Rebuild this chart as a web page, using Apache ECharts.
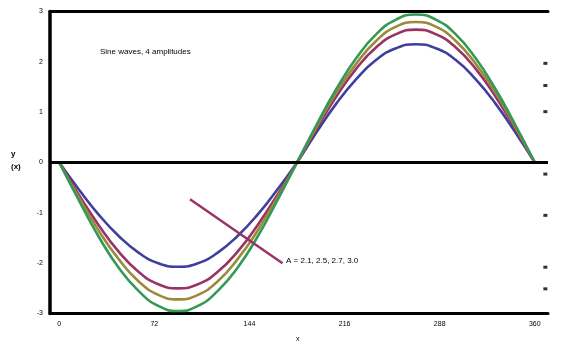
<!DOCTYPE html>
<html lang="en">
<head>
    <meta charset="UTF-8">
    <title>Sine waves</title>
    <script src="https://cdn.jsdelivr.net/npm/echarts@6.0.0/dist/echarts.min.js"></script>
</head>
<body style="margin:0">
    <div id="chart" style="width: 569px; height: 357px;"></div>

    <script>
        // angle in degrees
        var angles = [0, 15, 30, 45, 60, 75, 90, 105, 120, 135, 150, 165, 180,
                      195, 210, 225, 240, 255, 270, 285, 300, 315, 330, 345, 360];
        var xTicks = [0, 72, 144, 216, 288, 360];
        var yTicks = [-3, -2, -1, 0, 1, 2, 3];

        var serieA = [0, -0.54, -1.04, -1.46, -1.79, -2.0, -2.07, -2.0, -1.79, -1.46, -1.04, -0.54, 0,
                      0.61, 1.18, 1.66, 2.04, 2.27, 2.35, 2.27, 2.04, 1.66, 1.18, 0.61, 0];
        var serieB = [0, -0.65, -1.25, -1.77, -2.17, -2.42, -2.50, -2.42, -2.17, -1.77, -1.25, -0.65, 0,
                      0.68, 1.32, 1.87, 2.29, 2.55, 2.64, 2.55, 2.29, 1.87, 1.32, 0.68, 0];
        var serieC = [0, -0.70, -1.36, -1.92, -2.36, -2.63, -2.72, -2.63, -2.36, -1.92, -1.36, -0.70, 0,
                      0.72, 1.40, 1.97, 2.42, 2.70, 2.79, 2.70, 2.42, 1.97, 1.40, 0.72, 0];
        var serieD = [0, -0.76, -1.48, -2.09, -2.55, -2.85, -2.95, -2.85, -2.55, -2.09, -1.48, -0.76, 0,
                      0.76, 1.47, 2.08, 2.55, 2.84, 2.94, 2.84, 2.55, 2.08, 1.47, 0.76, 0];

        // pequenas marcas na borda direita
        var marcasDireita = [1.97, 1.53, 1.01, -0.23, -1.05, -2.08, -2.51];
        var marcasX = 368;

        // linha de chamada (início e fim)
        var setaInicio = [99, -0.73];
        var setaFim = [169, -2.0];

        var textoTopo = 'Sine waves, 4 amplitudes';
        var textoSeta = 'A = 2.1, 2.5, 2.7, 3.0';

        function pares(ys) {
            return ys.map(function (y, i) { return [angles[i], y]; });
        }

        var chart = echarts.init(document.getElementById('chart'));

        var linha = function (nome, cor, dados) {
            return {
                name: nome,
                type: 'line',
                data: pares(dados),
                smooth: true,
                symbol: 'none',
                lineStyle: { color: cor, width: 2.6 },
                itemStyle: { color: cor },
                z: 3
            };
        };

        chart.setOption({
            animation: false,
            grid: { left: 50, right: 21, top: 11.5, bottom: 43.5 },
            xAxis: [{
                type: 'value',
                min: -7,
                max: 370,
                axisLine: { onZero: false, lineStyle: { color: '#000', width: 3 } },
                axisTick: { show: false },
                splitLine: { show: false },
                axisLabel: {
                    customValues: xTicks,
                    color: '#000',
                    fontSize: 7,
                    margin: 7
                }
            }, {
                type: 'value',
                position: 'top',
                min: -7,
                max: 370,
                axisLine: { onZero: false, lineStyle: { color: '#000', width: 3 } },
                axisTick: { show: false },
                axisLabel: { show: false },
                splitLine: { show: false }
            }],
            yAxis: {
                type: 'value',
                min: -3,
                max: 3,
                axisLine: { show: true, onZero: false, lineStyle: { color: '#000', width: 3.5 } },
                axisTick: { show: false },
                splitLine: { show: false },
                axisLabel: {
                    customValues: yTicks,
                    color: '#000',
                    fontSize: 7,
                    margin: 7
                }
            },
            graphic: [
                { type: 'text', left: 100, top: 48, style: { text: textoTopo, fontSize: 8, fill: '#000' } },
                { type: 'text', left: 286, top: 257, style: { text: textoSeta, fontSize: 8, fill: '#000' } },
                { type: 'text', left: 11, top: 147, style: { text: 'y\n(x)', fontSize: 8, fontWeight: 'bold', fill: '#000', lineHeight: 13 } },
                { type: 'text', left: 296, top: 336, style: { text: 'x', fontSize: 7, fill: '#000' } }
            ],
            series: [
                linha('A', '#3f3f9c', serieA),
                linha('B', '#993366', serieB),
                linha('C', '#9a8a3a', serieC),
                Object.assign(linha('D', '#339955', serieD), {
                    markLine: {
                        silent: true,
                        symbol: 'none',
                        label: { show: false },
                        data: [
                            { yAxis: 0, lineStyle: { color: '#000', width: 3, type: 'solid' } },
                            [{ coord: setaInicio, lineStyle: { color: '#993366', width: 2.5, type: 'solid' } },
                             { coord: setaFim }]
                        ]
                    }
                }),
                {
                    type: 'scatter',
                    data: marcasDireita.map(function (v) { return [marcasX, v]; }),
                    symbol: 'rect',
                    symbolSize: [4, 3],
                    itemStyle: { color: '#000' },
                    z: 4
                }
            ]
        });
    </script>
</body>
</html>
